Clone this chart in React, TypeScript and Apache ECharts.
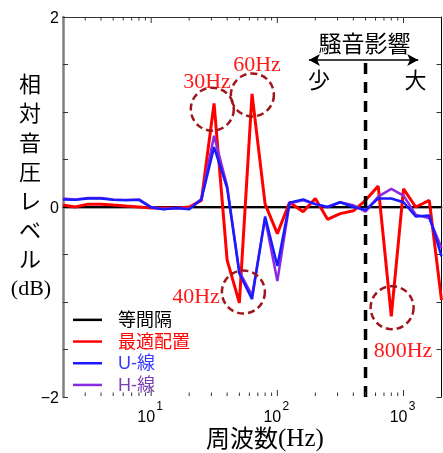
import React, { useEffect, useRef } from 'react';
import * as echarts from 'echarts';

// 1/3-octave band centre frequencies (Hz)
const freqs = [2, 2.5, 3.15, 4, 5, 6.3, 8, 10, 12.5, 16, 20, 25, 31.5, 40, 50, 63, 80, 100, 125, 160, 200, 250, 315, 400, 500, 630, 800, 1000, 1250, 1600, 2000];

// Relative sound pressure level (dB)
const equalSpacing = [0, 0, 0, 0, 0, 0, 0, 0, 0, 0, 0, 0, 0, 0, 0, 0, 0, 0, 0, 0, 0, 0, 0, 0, 0, 0, 0, 0, 0, 0, 0];
const optimal = [0.02, 0.0, 0.03, 0.03, 0.02, 0.01, 0.0, -0.01, -0.01, -0.01, 0.0, 0.07, 1.09, -0.56, -1.01, 1.19, 0.03, -0.28, 0.05, -0.05, 0.09, -0.13, -0.07, -0.04, 0.07, 0.22, -1.15, 0.19, 0.0, 0.07, -0.98];
const uLine = [0.08, 0.075, 0.09, 0.09, 0.075, 0.07, 0.075, -0.005, -0.025, -0.01, -0.025, 0.08, 0.63, 0.2, -0.7, -0.97, -0.1, -0.62, 0.045, 0.08, 0.03, 0.0, 0.05, 0.0, -0.03, 0.09, 0.09, 0.05, -0.1, -0.09, -0.52];
const hLine = [0.09, 0.08, 0.095, 0.095, 0.08, 0.075, 0.08, 0.0, -0.02, -0.01, -0.02, 0.085, 0.75, 0.22, -0.68, -0.93, -0.12, -0.78, 0.04, 0.07, 0.03, 0.0, 0.05, 0.02, -0.05, 0.11, 0.19, 0.12, -0.08, -0.12, -0.43];

const seriesNames = ['等間隔', '最適配置', 'U-線', 'H-線'];
const seriesColors = ['#000000', '#ff0000', '#1a1aff', '#8a2be2'];
const legendTextColors = ['#000000', '#ff0000', '#3b3bff', '#7a3fb0'];

// annotated bands: circle centres (freq, dB)
const noteFreqs = [30.5, 63.4, 53.8, 812];
const noteVals = [1.03, 1.18, -0.895, -1.06];

// noise boundary (Hz) and arrow extent
const boundaryFreq = 500;
const arrowFreqs = [178, 1307];
const arrowLevel = 1.547;

// axis ranges / tick labels
const xMin = 2;
const xMax = 2000;
const yMin = -2;
const yMax = 2;
const yInterval = 0.5;
const yLabelValues = [-2, 0, 2];
const yLabelTexts = ['−2', '0', '2'];
const decadeStarts = [1, 10, 100, 1000];
const xLabelBase = '10';

const CJK = "'Noto Sans CJK JP', sans-serif";
const SANS = "'Liberation Sans', 'Noto Sans CJK JP', sans-serif";
const SERIF = "'Liberation Serif', serif";

const decadeExp = (v: number) => {
  const e = Math.round(Math.log10(v));
  return Math.abs(Math.log10(v) - e) > 1e-6 ? null : e;
};

export default function App() {
  const ref = useRef<HTMLDivElement>(null);

  useEffect(() => {
    if (!ref.current) return;
    document.body.style.margin = '0';
    const chart = echarts.init(ref.current, undefined, { renderer: 'svg' });

    const tickData: number[][] = [];
    decadeStarts.forEach((d) => {
      for (let m = 1; m <= 9; m++) {
        const f = m * d;
        if (f > xMin && f < xMax) tickData.push([f, m === 1 ? 1 : 0]);
      }
    });

    const valsByName: Record<string, number[]> = {
      '等間隔': equalSpacing,
      '最適配置': optimal,
      'U-線': uLine,
      'H-線': hLine,
    };
    const widths = [2, 3, 2.5, 2.5];
    const order = [0, 1, 3, 2];

    const lineSeries = order.map((idx) => ({
      name: seriesNames[idx],
      type: 'line',
      data: freqs.map((f, i) => [f, valsByName[seriesNames[idx]][i]]),
      symbol: 'none',
      showSymbol: false,
      lineStyle: { color: seriesColors[idx], width: widths[idx] },
      itemStyle: { color: seriesColors[idx] },
      z: 3,
    }));

    const logAxisBase = { type: 'log', logBase: 10, min: xMin, max: xMax, splitLine: { show: false }, axisTick: { show: false } };

    const option: any = {
      animation: false,
      grid: { left: 63, right: 1.5, top: 17, bottom: 56, show: false },
      xAxis: [
        {
          ...logAxisBase,
          position: 'bottom',
          axisLine: { show: true, lineStyle: { color: '#7f7f7f', width: 2.5 } },
          axisLabel: {
            margin: 11,
            showMinLabel: false,
            showMaxLabel: false,
            fontSize: 16,
            fontFamily: SANS,
            color: '#000',
            padding: [0, 10, 0, 0],
            formatter: (v: number) => (decadeExp(v) === null ? '' : xLabelBase),
          },
        },
        {
          ...logAxisBase,
          position: 'bottom',
          axisLine: { show: false },
          axisLabel: {
            margin: 3,
            showMinLabel: false,
            showMaxLabel: false,
            fontSize: 12,
            fontFamily: SANS,
            color: '#000',
            padding: [0, 0, 0, 17],
            formatter: (v: number) => {
              const e = decadeExp(v);
              return e === null ? '' : String(e);
            },
          },
        },
        {
          ...logAxisBase,
          position: 'top',
          axisLine: { show: true, lineStyle: { color: '#333', width: 1 } },
          axisLabel: { show: false },
        },
      ],
      yAxis: [
        {
          type: 'value',
          min: yMin,
          max: yMax,
          interval: yInterval,
          position: 'left',
          axisLine: { show: true, lineStyle: { color: '#7f7f7f', width: 2.5 } },
          axisTick: { show: true, inside: true, length: 5, lineStyle: { color: '#333' } },
          splitLine: { show: false },
          axisLabel: {
            margin: 4,
            fontSize: 16,
            fontFamily: SANS,
            color: '#000',
            formatter: (v: number) => {
              const i = yLabelValues.findIndex((x) => Math.abs(x - v) < 1e-9);
              return i >= 0 ? yLabelTexts[i] : '';
            },
          },
        },
        {
          type: 'value',
          min: yMin,
          max: yMax,
          interval: yInterval,
          position: 'right',
          axisLine: { show: true, lineStyle: { color: '#000', width: 1 } },
          axisTick: { show: true, inside: true, length: 5, lineStyle: { color: '#333' } },
          splitLine: { show: false },
          axisLabel: { show: false },
        },
      ],
      legend: {
        orient: 'vertical',
        left: 73,
        top: 309,
        padding: 0,
        icon: 'rect',
        itemWidth: 29,
        itemHeight: 2.5,
        itemGap: 0,
        textStyle: { fontSize: 18, fontFamily: SANS, padding: [0, 0, 0, 11], lineHeight: 21.7 },
        data: seriesNames.map((n, i) => ({
          name: n,
          itemStyle: { color: seriesColors[i] },
          textStyle: { color: legendTextColors[i] },
        })),
      },
      series: [
        {
          type: 'custom',
          silent: true,
          clip: false,
          data: tickData,
          encode: { x: 0, y: 1 },
          z: 5,
          renderItem: (_p: any, api: any) => {
            const f = api.value(0);
            const major = api.value(1) === 1;
            const b = api.coord([f, yMin]);
            const t = api.coord([f, yMax]);
            const len = major ? 6 : 3.5;
            return {
              type: 'group',
              children: [
                { type: 'line', shape: { x1: b[0], y1: b[1] - 1, x2: b[0], y2: b[1] - 1 - len }, style: { stroke: '#333', lineWidth: 1 } },
                { type: 'line', shape: { x1: t[0], y1: t[1], x2: t[0], y2: t[1] + len }, style: { stroke: '#333', lineWidth: 1 } },
              ],
            };
          },
        },
        {
          name: 'boundary',
          type: 'line',
          data: [[boundaryFreq, yMin], [boundaryFreq, arrowLevel]],
          symbol: 'none',
          silent: true,
          z: 4,
          lineStyle: { color: '#000', width: 3.5, type: [11, 8] },
          markLine: {
            silent: true,
            symbol: ['arrow', 'arrow'],
            symbolSize: [9, 11],
            label: { show: false },
            lineStyle: { color: '#000', width: 1.5, type: 'solid' },
            data: [[{ coord: [arrowFreqs[0], arrowLevel] }, { coord: [arrowFreqs[1], arrowLevel] }]],
          },
        },
        ...lineSeries,
        {
          name: 'notes',
          type: 'scatter',
          silent: true,
          data: noteFreqs.map((f, i) => [f, noteVals[i]]),
          symbol: 'circle',
          symbolSize: 43,
          z: 6,
          itemStyle: { color: 'rgba(0,0,0,0)', opacity: 1, borderColor: '#a0141c', borderWidth: 2.5, borderType: [7, 4] },
        },
      ],
      graphic: [
        {
          type: 'text',
          x: 30,
          y: 67.5,
          style: {
            text: '相\n対\n音\n圧\nレ\nベ\nル',
            font: `22px ${CJK}`,
            fill: '#000',
            textAlign: 'center',
            textVerticalAlign: 'top',
            lineHeight: 29.2,
          },
        },
        {
          type: 'text',
          x: 31,
          y: 287,
          style: { text: '(dB)', font: `22px ${SERIF}`, fill: '#000', textAlign: 'center', textVerticalAlign: 'middle' },
        },
        {
          type: 'text',
          x: 278,
          y: 436.5,
          style: { text: '周波数', font: `24px ${CJK}`, fill: '#000', textAlign: 'right', textVerticalAlign: 'middle' },
        },
        {
          type: 'text',
          x: 278,
          y: 437.5,
          style: { text: '(Hz)', font: `25px ${SERIF}`, fill: '#000', textAlign: 'left', textVerticalAlign: 'middle' },
        },
        {
          type: 'text',
          x: 364.5,
          y: 42,
          style: { text: '騒音影響', font: `23px ${CJK}`, fill: '#000', textAlign: 'center', textVerticalAlign: 'middle' },
        },
        {
          type: 'text',
          x: 319,
          y: 78,
          style: { text: '少', font: `22px ${CJK}`, fill: '#000', textAlign: 'center', textVerticalAlign: 'middle' },
        },
        {
          type: 'text',
          x: 415.5,
          y: 78,
          style: { text: '大', font: `22px ${CJK}`, fill: '#000', textAlign: 'center', textVerticalAlign: 'middle' },
        },
        {
          type: 'text',
          x: 207,
          y: 80,
          style: { text: '30Hz', font: `22px ${SERIF}`, fill: '#ff1a1a', textAlign: 'center', textVerticalAlign: 'middle' },
        },
        {
          type: 'text',
          x: 257,
          y: 63,
          style: { text: '60Hz', font: `22px ${SERIF}`, fill: '#ff1a1a', textAlign: 'center', textVerticalAlign: 'middle' },
        },
        {
          type: 'text',
          x: 196,
          y: 295,
          style: { text: '40Hz', font: `22px ${SERIF}`, fill: '#ff1a1a', textAlign: 'center', textVerticalAlign: 'middle' },
        },
        {
          type: 'text',
          x: 403,
          y: 349,
          style: { text: '800Hz', font: `22px ${SERIF}`, fill: '#ff1a1a', textAlign: 'center', textVerticalAlign: 'middle' },
        },
      ],
    };

    chart.setOption(option);
    return () => chart.dispose();
  }, []);

  return <div ref={ref} style={{ position: 'fixed', left: 0, top: 0, width: 443, height: 453 }} />;
}
